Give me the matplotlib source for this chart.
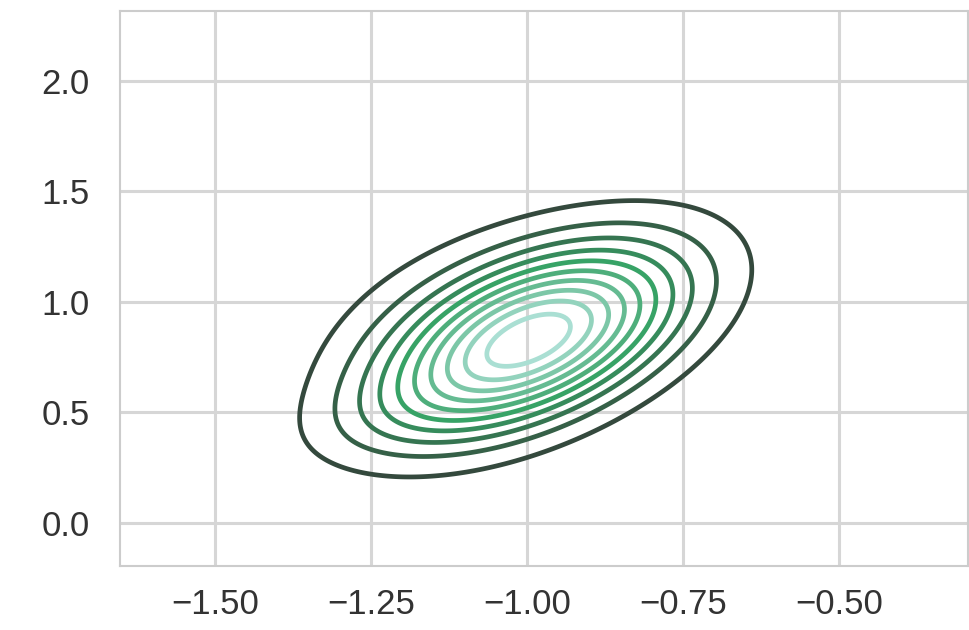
import matplotlib
matplotlib.use("Agg")
import matplotlib.pyplot as plt
from matplotlib.colors import LinearSegmentedColormap, Normalize
import numpy as np
import seaborn as sns

# bivariate density, as a sum of gaussian blobs
comp_mean_x = [-0.995, -1.04, -1.20]
comp_mean_y = [0.82, 0.98, 0.50]
comp_sd_x = [0.16, 0.20, 0.11]
comp_sd_y = [0.28, 0.30, 0.15]
comp_rho = [0.52, 0.30, 0.45]
comp_weight = [0.85, 0.15, 0.02]

peak_density = 5.43
contour_levels = [0.5, 1.0, 1.5, 2.0, 2.5, 3.0, 3.5, 4.0, 4.5, 5.0]

x_ticks = [-1.50, -1.25, -1.00, -0.75, -0.50]
y_ticks = [0.0, 0.5, 1.0, 1.5, 2.0]
x_lim = (-1.652, -0.2935)
y_lim = (-0.194, 2.315)

sns.set_theme(style="whitegrid")
plt.rcParams["font.family"] = ["Liberation Sans", "DejaVu Sans"]

# "BuGn_d": dark gray -> green -> light mint
bugn = plt.get_cmap("BuGn")
cmap = LinearSegmentedColormap.from_list(
    "BuGn_d", ["#333333", bugn(2 / 3), bugn(1 / 3)]
)

xs = np.linspace(x_lim[0], x_lim[1], 400)
ys = np.linspace(y_lim[0], y_lim[1], 400)
xx, yy = np.meshgrid(xs, ys)
z = np.zeros_like(xx)
for mx, my, sx, sy, r, w in zip(comp_mean_x, comp_mean_y, comp_sd_x,
                                 comp_sd_y, comp_rho, comp_weight):
    u = (xx - mx) / sx
    v = (yy - my) / sy
    q = (u * u - 2 * r * u * v + v * v) / (1 - r * r)
    z += w * np.exp(-0.5 * q) / (2 * np.pi * sx * sy * np.sqrt(1 - r * r))
z *= peak_density / z.max()

fig = plt.figure(figsize=(9.7, 6.3), dpi=100)
ax = fig.add_axes([0.1237, 0.1016, 0.8743, 0.8809])

ax.contour(xx, yy, z, levels=contour_levels, cmap=cmap,
           norm=Normalize(0, contour_levels[-1]), linewidths=3.4)

ax.set_xlim(*x_lim)
ax.set_ylim(*y_lim)
ax.set_xticks(x_ticks)
ax.set_yticks(y_ticks)
ax.set_xticklabels([f"{t:.2f}".replace("-", "\u2212") for t in x_ticks])
ax.set_yticklabels([f"{t:.1f}" for t in y_ticks])

ax.grid(True, color="#d6d6d6", linewidth=2.2)
for s in ax.spines.values():
    s.set_color("#cccccc")
    s.set_linewidth(1.5)
ax.tick_params(axis="both", length=0, labelsize=25, labelcolor="#333333")
ax.tick_params(axis="x", pad=16)
ax.tick_params(axis="y", pad=22)

fig.savefig("out.png", dpi=100)
plt.close(fig)
